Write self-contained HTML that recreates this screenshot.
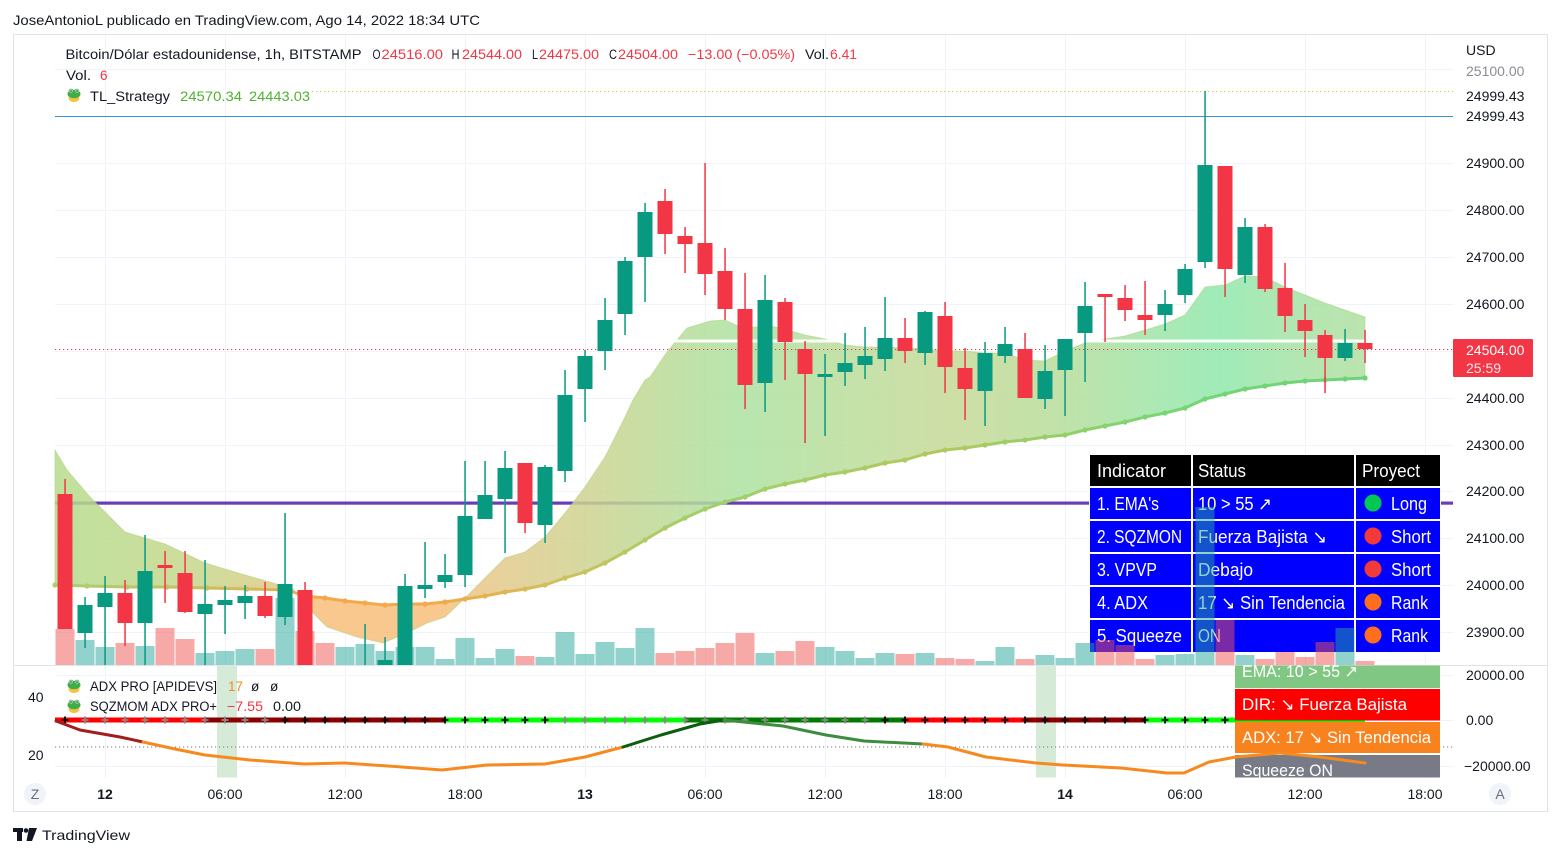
<!DOCTYPE html>
<html><head><meta charset="utf-8">
<style>
html,body{margin:0;padding:0;background:#fff;width:1561px;height:856px;overflow:hidden}
svg{display:block}
text{font-family:"Liberation Sans","DejaVu Sans",sans-serif}
</style></head><body>
<svg width="1561" height="856" viewBox="0 0 1561 856" xmlns="http://www.w3.org/2000/svg">
<defs>
<linearGradient id="bandG" gradientUnits="userSpaceOnUse" x1="55" y1="0" x2="1365" y2="0">
<stop offset="0" stop-color="#b5dc8c"/>
<stop offset="0.11" stop-color="#c6d68a"/>
<stop offset="0.172" stop-color="#e0cb84"/>
<stop offset="0.202" stop-color="#f8be7a"/>
<stop offset="0.294" stop-color="#f8bf7b"/>
<stop offset="0.34" stop-color="#e4c98a"/>
<stop offset="0.385" stop-color="#d4d08e"/>
<stop offset="0.447" stop-color="#c0d894"/>
<stop offset="0.523" stop-color="#abe2a0"/>
<stop offset="0.584" stop-color="#b6de9c"/>
<stop offset="0.683" stop-color="#c6d996"/>
<stop offset="0.767" stop-color="#b6dd9a"/>
<stop offset="0.836" stop-color="#a0e4a6"/>
<stop offset="0.889" stop-color="#8ee8ac"/>
<stop offset="0.95" stop-color="#a6e2a4"/>
<stop offset="1" stop-color="#b0dfa0"/>
</linearGradient>
<linearGradient id="lineG" gradientUnits="userSpaceOnUse" x1="55" y1="0" x2="1365" y2="0">
<stop offset="0" stop-color="#a8d070"/>
<stop offset="0.17" stop-color="#dcb458"/>
<stop offset="0.2" stop-color="#f5a84a"/>
<stop offset="0.3" stop-color="#f2aa4a"/>
<stop offset="0.38" stop-color="#cfc05c"/>
<stop offset="0.5" stop-color="#9fd06a"/>
<stop offset="0.68" stop-color="#b2c860"/>
<stop offset="0.85" stop-color="#78d673"/>
<stop offset="1" stop-color="#6dd27a"/>
</linearGradient>
<clipPath id="mainClip"><rect x="14" y="35" width="1439" height="630"/></clipPath>
<clipPath id="lowClip"><rect x="14" y="665.5" width="1439" height="112"/></clipPath>
<clipPath id="topLbl"><rect x="1453" y="64" width="100" height="20"/></clipPath>
<g id="frog">
<ellipse cx="7" cy="10" rx="5.5" ry="4" fill="#f5c242"/>
<ellipse cx="7" cy="6" rx="6.5" ry="4.3" fill="#3fae49"/>
<circle cx="4" cy="3" r="2.3" fill="#3fae49"/><circle cx="10" cy="3" r="2.3" fill="#3fae49"/>
<circle cx="4" cy="3" r="1.5" fill="#fff"/><circle cx="10" cy="3" r="1.5" fill="#fff"/>
<circle cx="4" cy="3" r="0.8" fill="#000"/><circle cx="10" cy="3" r="0.8" fill="#000"/>
</g>
</defs>

<!-- header -->
<text x="13" y="25" font-size="14" fill="#131722" textLength="467" lengthAdjust="spacingAndGlyphs">JoseAntonioL publicado en TradingView.com, Ago 14, 2022 18:34 UTC</text>

<!-- frame -->
<rect x="13.5" y="34.5" width="1534" height="777" fill="#fff" stroke="#e0e3eb" stroke-width="1"/>

<!-- grid main -->
<g stroke="#f0f3fa" stroke-width="1">
<path d="M55 69.5H1453M55 116.5H1453M55 163.5H1453M55 210.5H1453M55 257.5H1453M55 304.5H1453M55 351.5H1453M55 398.5H1453M55 445.5H1453M55 491.5H1453M55 538.5H1453M55 585.5H1453M55 632.5H1453"/>
<path d="M105.5 35V778M225.5 35V778M345.5 35V778M465.5 35V778M585.5 35V778M705.5 35V778M825.5 35V778M945.5 35V778M1065.5 35V778M1185.5 35V778M1305.5 35V778M1425.5 35V778"/>
<path d="M55 675.5H1453M55 720.5H1453M55 766.5H1453"/>
</g>

<g clip-path="url(#mainClip)">
<!-- purple line -->
<rect x="55" y="501.5" width="1398" height="3.2" fill="#6a3db8"/>
<!-- band -->
<polygon fill="url(#bandG)" fill-opacity="0.85" stroke="#a9cf7a" stroke-opacity="0.5" stroke-width="1" points="55,450 67,470 90,497 125,532 165,544 205,563 245,575 273,583 293,589 307,607 327,627 357,637 383,643 407,633 427,623 445,617 465,598 485,578 505,558 525,552 545,537 565,513 585,487 605,457 625,417 633,400 645,380 650,377 667,352 687,328 710,321 725,320 740,327 757,327 767,325 787,330 805,335 825,339 845,345 865,347 885,347 905,348 925,349 945,351 965,351 985,353 1005,353 1025,360 1045,361 1065,351 1085,343 1105,339 1125,336 1145,330 1165,324 1185,315 1205,287 1225,285 1245,276 1265,277 1285,287 1305,295 1325,303 1345,310 1365,317 1365,378 1345,379 1325,380 1305,381 1285,383 1265,386 1245,389 1225,394 1205,399 1185,408 1165,413 1145,417 1125,422 1105,426 1085,430 1065,435 1045,437 1025,440 1005,442 985,445 965,448 945,450 925,454 905,460 885,463 865,468 845,472 825,475 805,480 785,484 765,489 745,497 725,502 705,509 685,518 665,528 645,540 625,552 605,563 585,572 565,578 545,585 525,589 505,592 485,596 465,599 445,602 425,604 405,604 385,605 365,603 345,601 325,598 305,596 287,590 247,589 207,588 167,587 127,587 87,586 55,585"/>
<!-- slow ema line -->
<polyline fill="none" stroke="url(#lineG)" stroke-width="3" stroke-linejoin="round" points="55,585 87,586 127,587 167,587 207,588 247,589 287,590 305,596 325,598 345,601 365,603 385,605 405,604 425,604 445,602 465,599 485,596 505,592 525,589 545,585 565,578 585,572 605,563 625,552 645,540 665,528 685,518 705,509 725,502 745,497 765,489 785,484 805,480 825,475 845,472 865,468 885,463 905,460 925,454 945,450 965,448 985,445 1005,442 1025,440 1045,437 1065,435 1085,430 1105,426 1125,422 1145,417 1165,413 1185,408 1205,399 1225,394 1245,389 1265,386 1285,383 1305,381 1325,380 1345,379 1365,378"/>
<g fill="url(#lineG)">
<circle cx="55" cy="585" r="2.6"/><circle cx="87" cy="586" r="2.6"/><circle cx="127" cy="587" r="2.6"/><circle cx="167" cy="587" r="2.6"/><circle cx="207" cy="588" r="2.6"/><circle cx="247" cy="589" r="2.6"/><circle cx="287" cy="590" r="2.6"/><circle cx="325" cy="598" r="2.6"/><circle cx="345" cy="601" r="2.6"/><circle cx="365" cy="603" r="2.6"/><circle cx="385" cy="605" r="2.6"/><circle cx="405" cy="604" r="2.6"/><circle cx="425" cy="604" r="2.6"/><circle cx="445" cy="602" r="2.6"/><circle cx="465" cy="599" r="2.6"/><circle cx="485" cy="596" r="2.6"/><circle cx="505" cy="592" r="2.6"/><circle cx="525" cy="589" r="2.6"/><circle cx="545" cy="585" r="2.6"/><circle cx="565" cy="578" r="2.6"/><circle cx="585" cy="572" r="2.6"/><circle cx="605" cy="563" r="2.6"/><circle cx="625" cy="552" r="2.6"/><circle cx="645" cy="540" r="2.6"/><circle cx="665" cy="528" r="2.6"/><circle cx="685" cy="518" r="2.6"/><circle cx="705" cy="509" r="2.6"/><circle cx="725" cy="502" r="2.6"/><circle cx="745" cy="497" r="2.6"/><circle cx="765" cy="489" r="2.6"/><circle cx="785" cy="484" r="2.6"/><circle cx="805" cy="480" r="2.6"/><circle cx="825" cy="475" r="2.6"/><circle cx="845" cy="472" r="2.6"/><circle cx="865" cy="468" r="2.6"/><circle cx="885" cy="463" r="2.6"/><circle cx="905" cy="460" r="2.6"/><circle cx="925" cy="454" r="2.6"/><circle cx="945" cy="450" r="2.6"/><circle cx="965" cy="448" r="2.6"/><circle cx="985" cy="445" r="2.6"/><circle cx="1005" cy="442" r="2.6"/><circle cx="1025" cy="440" r="2.6"/><circle cx="1045" cy="437" r="2.6"/><circle cx="1065" cy="435" r="2.6"/><circle cx="1085" cy="430" r="2.6"/><circle cx="1105" cy="426" r="2.6"/><circle cx="1125" cy="422" r="2.6"/><circle cx="1145" cy="417" r="2.6"/><circle cx="1165" cy="413" r="2.6"/><circle cx="1185" cy="408" r="2.6"/><circle cx="1205" cy="399" r="2.6"/><circle cx="1225" cy="394" r="2.6"/><circle cx="1245" cy="389" r="2.6"/><circle cx="1265" cy="386" r="2.6"/><circle cx="1285" cy="383" r="2.6"/><circle cx="1305" cy="381" r="2.6"/><circle cx="1325" cy="380" r="2.6"/><circle cx="1345" cy="379" r="2.6"/><circle cx="1365" cy="378" r="2.6"/>
</g>
<!-- white poc line -->
<rect x="673" y="339.5" width="692" height="3" fill="#ffffff" opacity="0.92"/>
<!-- horizontal lines -->
<line x1="312" y1="91.5" x2="1453" y2="91.5" stroke="#c9d23e" stroke-width="1" stroke-dasharray="1.2 2.8"/>
<line x1="55" y1="116.5" x2="1453" y2="116.5" stroke="#3a8fd0" stroke-width="1"/>
<line x1="55" y1="349.5" x2="1453" y2="349.5" stroke="#f23645" stroke-width="1" stroke-dasharray="1.2 2.8"/>

<!-- table -->
<rect x="1089" y="454" width="352" height="199" fill="#ffffff"/>
<g fill="#000">
<rect x="1090" y="455" width="101" height="31"/><rect x="1193" y="455" width="161" height="31"/><rect x="1356" y="455" width="84" height="31"/>
</g>
<g fill="#0000ff">
<rect x="1090" y="488" width="101" height="31"/><rect x="1193" y="488" width="161" height="31"/><rect x="1356" y="488" width="84" height="31"/>
<rect x="1090" y="521" width="101" height="31"/><rect x="1193" y="521" width="161" height="31"/><rect x="1356" y="521" width="84" height="31"/>
<rect x="1090" y="554" width="101" height="31"/><rect x="1193" y="554" width="161" height="31"/><rect x="1356" y="554" width="84" height="31"/>
<rect x="1090" y="587" width="101" height="31"/><rect x="1193" y="587" width="161" height="31"/><rect x="1356" y="587" width="84" height="31"/>
<rect x="1090" y="620" width="101" height="32"/><rect x="1193" y="620" width="161" height="32"/><rect x="1356" y="620" width="84" height="32"/>
</g>
<circle cx="1373" cy="503" r="8.5" fill="#00c853"/>
<circle cx="1373" cy="536" r="8.5" fill="#f23a3a"/>
<circle cx="1373" cy="569" r="8.5" fill="#f23a3a"/>
<circle cx="1373" cy="602" r="8.5" fill="#ff6d1f"/>
<circle cx="1373" cy="635" r="8.5" fill="#ff6d1f"/>
<g fill="#ffffff" font-size="18">
<text x="1097" y="477" textLength="69" lengthAdjust="spacingAndGlyphs">Indicator</text>
<text x="1198" y="477" textLength="48" lengthAdjust="spacingAndGlyphs">Status</text>
<text x="1362" y="477" textLength="58" lengthAdjust="spacingAndGlyphs">Proyect</text>
<text x="1097" y="510" textLength="62" lengthAdjust="spacingAndGlyphs">1. EMA's</text>
<text x="1198" y="510" textLength="74" lengthAdjust="spacingAndGlyphs">10 &gt; 55 ↗</text>
<text x="1391" y="510" textLength="36" lengthAdjust="spacingAndGlyphs">Long</text>
<text x="1097" y="543" textLength="85" lengthAdjust="spacingAndGlyphs">2. SQZMON</text>
<text x="1198" y="543" textLength="129" lengthAdjust="spacingAndGlyphs">Fuerza Bajista ↘</text>
<text x="1391" y="543" textLength="40" lengthAdjust="spacingAndGlyphs">Short</text>
<text x="1097" y="576" textLength="60" lengthAdjust="spacingAndGlyphs">3. VPVP</text>
<text x="1198" y="576" textLength="55" lengthAdjust="spacingAndGlyphs">Debajo</text>
<text x="1391" y="576" textLength="40" lengthAdjust="spacingAndGlyphs">Short</text>
<text x="1097" y="609" textLength="51" lengthAdjust="spacingAndGlyphs">4. ADX</text>
<text x="1198" y="609" textLength="147" lengthAdjust="spacingAndGlyphs">17 ↘ Sin Tendencia</text>
<text x="1391" y="609" textLength="37" lengthAdjust="spacingAndGlyphs">Rank</text>
<text x="1097" y="642" textLength="85" lengthAdjust="spacingAndGlyphs">5. Squeeze</text>
<text x="1198" y="642" textLength="23" lengthAdjust="spacingAndGlyphs">ON</text>
<text x="1391" y="642" textLength="37" lengthAdjust="spacingAndGlyphs">Rank</text>
</g>

<!-- volume -->
<g fill="rgba(38,166,154,0.5)">
<rect x="75.5" y="640" width="19" height="25"/><rect x="95.5" y="647" width="19" height="18"/><rect x="135.5" y="646" width="19" height="19"/><rect x="195.5" y="653" width="19" height="12"/><rect x="215.5" y="651" width="19" height="14"/><rect x="235.5" y="649" width="19" height="16"/><rect x="275.5" y="598" width="19" height="67"/><rect x="335.5" y="647" width="19" height="18"/><rect x="355.5" y="644" width="19" height="21"/><rect x="375.5" y="651" width="19" height="14"/><rect x="395.5" y="647" width="19" height="18"/><rect x="415.5" y="647" width="19" height="18"/><rect x="435.5" y="659" width="19" height="6"/><rect x="455.5" y="638" width="19" height="27"/><rect x="475.5" y="658" width="19" height="7"/><rect x="495.5" y="649" width="19" height="16"/><rect x="535.5" y="657" width="19" height="8"/><rect x="555.5" y="632" width="19" height="33"/><rect x="575.5" y="654" width="19" height="11"/><rect x="595.5" y="642" width="19" height="23"/><rect x="615.5" y="648" width="19" height="17"/><rect x="635.5" y="628" width="19" height="37"/><rect x="755.5" y="653" width="19" height="12"/><rect x="815.5" y="647" width="19" height="18"/><rect x="835.5" y="651" width="19" height="14"/><rect x="855.5" y="658" width="19" height="7"/><rect x="875.5" y="653" width="19" height="12"/><rect x="915.5" y="653" width="19" height="12"/><rect x="975.5" y="661" width="19" height="4"/><rect x="995.5" y="647" width="19" height="18"/><rect x="1035.5" y="655" width="19" height="10"/><rect x="1055.5" y="658" width="19" height="7"/><rect x="1075.5" y="643" width="19" height="22"/><rect x="1155.5" y="655" width="19" height="10"/><rect x="1175.5" y="654" width="19" height="11"/><rect x="1195.5" y="507" width="19" height="158"/><rect x="1235.5" y="655" width="19" height="10"/><rect x="1335.5" y="628" width="19" height="37"/>
</g>
<g fill="rgba(239,83,80,0.5)">
<rect x="55.5" y="629" width="19" height="36"/><rect x="115.5" y="643" width="19" height="22"/><rect x="155.5" y="628" width="19" height="37"/><rect x="175.5" y="639" width="19" height="26"/><rect x="255.5" y="649" width="19" height="16"/><rect x="295.5" y="631" width="19" height="34"/><rect x="315.5" y="643" width="19" height="22"/><rect x="515.5" y="656" width="19" height="9"/><rect x="655.5" y="653" width="19" height="12"/><rect x="675.5" y="651" width="19" height="14"/><rect x="695.5" y="648" width="19" height="17"/><rect x="715.5" y="643" width="19" height="22"/><rect x="735.5" y="633" width="19" height="32"/><rect x="775.5" y="651" width="19" height="14"/><rect x="795.5" y="641" width="19" height="24"/><rect x="895.5" y="654" width="19" height="11"/><rect x="935.5" y="658" width="19" height="7"/><rect x="955.5" y="659" width="19" height="6"/><rect x="1015.5" y="659" width="19" height="6"/><rect x="1095.5" y="640" width="19" height="25"/><rect x="1115.5" y="645" width="19" height="20"/><rect x="1135.5" y="659" width="19" height="6"/><rect x="1215.5" y="620" width="19" height="45"/><rect x="1255.5" y="659" width="19" height="6"/><rect x="1275.5" y="652" width="19" height="13"/><rect x="1295.5" y="657" width="19" height="8"/><rect x="1315.5" y="642" width="19" height="23"/><rect x="1355.5" y="661" width="19" height="4"/>
</g>

<!-- green candles -->
<g fill="#089981">
<rect x="84.3" y="597" width="1.5" height="51"/><rect x="77.5" y="605" width="15" height="28"/>
<rect x="104.3" y="576" width="1.5" height="89"/><rect x="97.5" y="593" width="15" height="14"/>
<rect x="144.3" y="535" width="1.5" height="130"/><rect x="137.5" y="571" width="15" height="52"/>
<rect x="204.3" y="560" width="1.5" height="105"/><rect x="197.5" y="604" width="15" height="10"/>
<rect x="224.3" y="586" width="1.5" height="48"/><rect x="217.5" y="600" width="15" height="5"/>
<rect x="244.3" y="585" width="1.5" height="34"/><rect x="237.5" y="596" width="15" height="7"/>
<rect x="284.3" y="513" width="1.5" height="112"/><rect x="277.5" y="584" width="15" height="33"/>
<rect x="364.3" y="624" width="1.5" height="41"/>
<rect x="384.3" y="637" width="1.5" height="28"/><rect x="377.5" y="660" width="15" height="5"/>
<rect x="404.3" y="574" width="1.5" height="91"/><rect x="397.5" y="586" width="15" height="79"/>
<rect x="424.3" y="542" width="1.5" height="56"/><rect x="417.5" y="585" width="15" height="4"/>
<rect x="444.3" y="554" width="1.5" height="34"/><rect x="437.5" y="575" width="15" height="7"/>
<rect x="464.3" y="461" width="1.5" height="126"/><rect x="457.5" y="516" width="15" height="59"/>
<rect x="484.3" y="461" width="1.5" height="58"/><rect x="477.5" y="495" width="15" height="24"/>
<rect x="504.3" y="451" width="1.5" height="102"/><rect x="497.5" y="468" width="15" height="31"/>
<rect x="544.3" y="465" width="1.5" height="78"/><rect x="537.5" y="467" width="15" height="58"/>
<rect x="564.3" y="370" width="1.5" height="112"/><rect x="557.5" y="395" width="15" height="76"/>
<rect x="584.3" y="350" width="1.5" height="72"/><rect x="577.5" y="356" width="15" height="33"/>
<rect x="604.3" y="298" width="1.5" height="72"/><rect x="597.5" y="320" width="15" height="31"/>
<rect x="624.3" y="257" width="1.5" height="78"/><rect x="617.5" y="261" width="15" height="53"/>
<rect x="644.3" y="203" width="1.5" height="99"/><rect x="637.5" y="212" width="15" height="45"/>
<rect x="764.3" y="275" width="1.5" height="137"/><rect x="757.5" y="300" width="15" height="83"/>
<rect x="824.3" y="354" width="1.5" height="82"/><rect x="817.5" y="374" width="15" height="3"/>
<rect x="844.3" y="333" width="1.5" height="53"/><rect x="837.5" y="363" width="15" height="9"/>
<rect x="864.3" y="327" width="1.5" height="52"/><rect x="857.5" y="356" width="15" height="9"/>
<rect x="884.3" y="297" width="1.5" height="74"/><rect x="877.5" y="338" width="15" height="21"/>
<rect x="924.3" y="311" width="1.5" height="54"/><rect x="917.5" y="312" width="15" height="41"/>
<rect x="984.3" y="342" width="1.5" height="84"/><rect x="977.5" y="353" width="15" height="38"/>
<rect x="1004.3" y="327" width="1.5" height="36"/><rect x="997.5" y="344" width="15" height="12"/>
<rect x="1044.3" y="345" width="1.5" height="64"/><rect x="1037.5" y="371" width="15" height="28"/>
<rect x="1064.3" y="339" width="1.5" height="77"/><rect x="1057.5" y="339" width="15" height="31"/>
<rect x="1084.3" y="282" width="1.5" height="100"/><rect x="1077.5" y="306" width="15" height="27"/>
<rect x="1164.3" y="290" width="1.5" height="41"/><rect x="1157.5" y="304" width="15" height="11"/>
<rect x="1184.3" y="264" width="1.5" height="39"/><rect x="1177.5" y="269" width="15" height="26"/>
<rect x="1204.3" y="91" width="1.5" height="177"/><rect x="1197.5" y="165" width="15" height="97"/>
<rect x="1244.3" y="218" width="1.5" height="65"/><rect x="1237.5" y="227" width="15" height="48"/>
<rect x="1344.3" y="329" width="1.5" height="32"/><rect x="1337.5" y="343" width="15" height="15"/>
</g>
<!-- red candles -->
<g fill="#f23645">
<rect x="64.3" y="479" width="1.5" height="150"/><rect x="57.5" y="494" width="15" height="135"/>
<rect x="124.3" y="580" width="1.5" height="66"/><rect x="117.5" y="593" width="15" height="30"/>
<rect x="164.3" y="551" width="1.5" height="52"/><rect x="157.5" y="565" width="15" height="3"/>
<rect x="184.3" y="551" width="1.5" height="62"/><rect x="177.5" y="573" width="15" height="39"/>
<rect x="264.3" y="582" width="1.5" height="36"/><rect x="257.5" y="596" width="15" height="20"/>
<rect x="304.3" y="582" width="1.5" height="83"/><rect x="297.5" y="590" width="15" height="75"/>
<rect x="524.3" y="463" width="1.5" height="70"/><rect x="517.5" y="463" width="15" height="60"/>
<rect x="664.3" y="189" width="1.5" height="65"/><rect x="657.5" y="201" width="15" height="33"/>
<rect x="684.3" y="227" width="1.5" height="46"/><rect x="677.5" y="236" width="15" height="8"/>
<rect x="704.3" y="163" width="1.5" height="132"/><rect x="697.5" y="243" width="15" height="31"/>
<rect x="724.3" y="248" width="1.5" height="72"/><rect x="717.5" y="271" width="15" height="38"/>
<rect x="744.3" y="273" width="1.5" height="136"/><rect x="737.5" y="309" width="15" height="76"/>
<rect x="784.3" y="298" width="1.5" height="82"/><rect x="777.5" y="302" width="15" height="40"/>
<rect x="804.3" y="341" width="1.5" height="102"/><rect x="797.5" y="349" width="15" height="25"/>
<rect x="904.3" y="318" width="1.5" height="45"/><rect x="897.5" y="338" width="15" height="13"/>
<rect x="944.3" y="302" width="1.5" height="91"/><rect x="937.5" y="316" width="15" height="51"/>
<rect x="964.3" y="348" width="1.5" height="72"/><rect x="957.5" y="368" width="15" height="21"/>
<rect x="1024.3" y="333" width="1.5" height="65"/><rect x="1017.5" y="349" width="15" height="49"/>
<rect x="1104.3" y="294" width="1.5" height="48"/><rect x="1097.5" y="294" width="15" height="3"/>
<rect x="1124.3" y="285" width="1.5" height="36"/><rect x="1117.5" y="298" width="15" height="12"/>
<rect x="1144.3" y="281" width="1.5" height="54"/><rect x="1137.5" y="315" width="15" height="5"/>
<rect x="1224.3" y="166" width="1.5" height="131"/><rect x="1217.5" y="166" width="15" height="103"/>
<rect x="1264.3" y="224" width="1.5" height="68"/><rect x="1257.5" y="227" width="15" height="62"/>
<rect x="1284.3" y="263" width="1.5" height="69"/><rect x="1277.5" y="288" width="15" height="28"/>
<rect x="1304.3" y="304" width="1.5" height="53"/><rect x="1297.5" y="320" width="15" height="11"/>
<rect x="1324.3" y="330" width="1.5" height="63"/><rect x="1317.5" y="335" width="15" height="23"/>
<rect x="1364.3" y="330" width="1.5" height="33"/><rect x="1357.5" y="343" width="15" height="6"/>
</g>
</g>

<!-- pane separator -->
<line x1="14" y1="665.5" x2="1547" y2="665.5" stroke="#e0e3eb" stroke-width="1"/>

<!-- legend main -->
<g font-size="13.5" fill="#131722">
<text x="65.5" y="59" textLength="296" lengthAdjust="spacingAndGlyphs">Bitcoin/Dólar estadounidense, 1h, BITSTAMP</text>
<text x="372.5" y="59" textLength="8" lengthAdjust="spacingAndGlyphs">O</text><text x="381.5" y="59" fill="#f23645" textLength="61.5" lengthAdjust="spacingAndGlyphs">24516.00</text>
<text x="451.5" y="59" textLength="8" lengthAdjust="spacingAndGlyphs">H</text><text x="462" y="59" fill="#f23645" textLength="60" lengthAdjust="spacingAndGlyphs">24544.00</text>
<text x="532" y="59" textLength="6" lengthAdjust="spacingAndGlyphs">L</text><text x="539" y="59" fill="#f23645" textLength="60" lengthAdjust="spacingAndGlyphs">24475.00</text>
<text x="609" y="59" textLength="8" lengthAdjust="spacingAndGlyphs">C</text><text x="618" y="59" fill="#f23645" textLength="60" lengthAdjust="spacingAndGlyphs">24504.00</text>
<text x="688" y="59" fill="#f23645" textLength="107" lengthAdjust="spacingAndGlyphs">−13.00 (−0.05%)</text>
<text x="805" y="59" textLength="24" lengthAdjust="spacingAndGlyphs">Vol.</text><text x="830" y="59" fill="#f23645" textLength="27" lengthAdjust="spacingAndGlyphs">6.41</text>
<text x="66" y="80" textLength="25" lengthAdjust="spacingAndGlyphs">Vol.</text><text x="100" y="80" fill="#f23645">6</text>
<text x="90" y="101" textLength="80" lengthAdjust="spacingAndGlyphs">TL_Strategy</text>
<text x="180" y="101" fill="#52b033" textLength="62" lengthAdjust="spacingAndGlyphs">24570.34</text>
<text x="249" y="101" fill="#52b033" textLength="61" lengthAdjust="spacingAndGlyphs">24443.03</text>
</g>
<use href="#frog" x="67" y="88"/>

<!-- right axis -->
<g font-size="14" fill="#131722">
<text x="1466" y="55">USD</text>
<text x="1466" y="76" fill="#8a8d96" clip-path="url(#topLbl)">25100.00</text>
<text x="1466" y="101">24999.43</text>
<text x="1466" y="121">24999.43</text>
<text x="1466" y="168">24900.00</text>
<text x="1466" y="215">24800.00</text>
<text x="1466" y="262">24700.00</text>
<text x="1466" y="309">24600.00</text>
<text x="1466" y="403">24400.00</text>
<text x="1466" y="450">24300.00</text>
<text x="1466" y="496">24200.00</text>
<text x="1466" y="543">24100.00</text>
<text x="1466" y="590">24000.00</text>
<text x="1466" y="637">23900.00</text>
<text x="1466" y="680">20000.00</text>
<text x="1466" y="725">0.00</text>
<text x="1464" y="771">−20000.00</text>
</g>
<rect x="1453" y="339" width="80" height="38" fill="#f23645" rx="1"/>
<text x="1466" y="355" font-size="14" fill="#fff">24504.00</text>
<text x="1466" y="373" font-size="14" fill="#fde4e6">25:59</text>

<!-- lower pane -->
<g clip-path="url(#lowClip)">
<rect x="217" y="666" width="20" height="112" fill="#d6ebd7"/>
<rect x="1036" y="666" width="20" height="112" fill="#d6ebd7"/>
<line x1="55" y1="747" x2="1453" y2="747" stroke="#787b86" stroke-width="1" stroke-dasharray="1.2 2.8"/>
<!-- squeeze line -->
<g stroke-width="5">
<line x1="55" y1="720" x2="205" y2="720" stroke="#ff0000"/>
<line x1="205" y1="720" x2="445" y2="720" stroke="#880000"/>
<line x1="445" y1="720" x2="685" y2="720" stroke="#00ff00"/>
<line x1="685" y1="720" x2="905" y2="720" stroke="#007a00"/>
<line x1="905" y1="720" x2="1025" y2="720" stroke="#ff0000"/>
<line x1="1025" y1="720" x2="1145" y2="720" stroke="#880000"/>
<line x1="1145" y1="720" x2="1365" y2="720" stroke="#00ff00"/>
</g>
<path stroke="#888" stroke-width="1.8" fill="none" d="M81.5,720h7M85,716.5v7M101.5,720h7M105,716.5v7M121.5,720h7M125,716.5v7M141.5,720h7M145,716.5v7M161.5,720h7M165,716.5v7M181.5,720h7M185,716.5v7M201.5,720h7M205,716.5v7M221.5,720h7M225,716.5v7M241.5,720h7M245,716.5v7M261.5,720h7M265,716.5v7M561.5,720h7M565,716.5v7M581.5,720h7M585,716.5v7M601.5,720h7M605,716.5v7M621.5,720h7M625,716.5v7M641.5,720h7M645,716.5v7M661.5,720h7M665,716.5v7M681.5,720h7M685,716.5v7M701.5,720h7M705,716.5v7M721.5,720h7M725,716.5v7M741.5,720h7M745,716.5v7M761.5,720h7M765,716.5v7M781.5,720h7M785,716.5v7M801.5,720h7M805,716.5v7M821.5,720h7M825,716.5v7M841.5,720h7M845,716.5v7M861.5,720h7M865,716.5v7"/>
<path stroke="#000" stroke-width="1.8" fill="none" d="M61.5,720h7M65,716.5v7M281.5,720h7M285,716.5v7M301.5,720h7M305,716.5v7M321.5,720h7M325,716.5v7M341.5,720h7M345,716.5v7M361.5,720h7M365,716.5v7M381.5,720h7M385,716.5v7M401.5,720h7M405,716.5v7M421.5,720h7M425,716.5v7M441.5,720h7M445,716.5v7M461.5,720h7M465,716.5v7M481.5,720h7M485,716.5v7M501.5,720h7M505,716.5v7M521.5,720h7M525,716.5v7M541.5,720h7M545,716.5v7M881.5,720h7M885,716.5v7M901.5,720h7M905,716.5v7M921.5,720h7M925,716.5v7M941.5,720h7M945,716.5v7M961.5,720h7M965,716.5v7M981.5,720h7M985,716.5v7M1001.5,720h7M1005,716.5v7M1021.5,720h7M1025,716.5v7M1041.5,720h7M1045,716.5v7M1061.5,720h7M1065,716.5v7M1081.5,720h7M1085,716.5v7M1101.5,720h7M1105,716.5v7M1121.5,720h7M1125,716.5v7M1141.5,720h7M1145,716.5v7M1161.5,720h7M1165,716.5v7M1181.5,720h7M1185,716.5v7M1201.5,720h7M1205,716.5v7M1221.5,720h7M1225,716.5v7"/>
<!-- boxes -->
<rect x="1235" y="656" width="205" height="32" fill="#81c784"/>
<rect x="1235" y="689" width="205" height="31.5" fill="#ff0000"/>
<rect x="1235" y="722" width="205" height="31" fill="#f7821e"/>
<rect x="1235" y="755" width="205" height="30" fill="#787b86"/>
<g fill="#fff" font-size="17">
<text x="1242" y="677" textLength="116" lengthAdjust="spacingAndGlyphs">EMA: 10 &gt; 55 ↗</text>
<text x="1242" y="710" textLength="165" lengthAdjust="spacingAndGlyphs">DIR: ↘ Fuerza Bajista</text>
<text x="1242" y="743" textLength="189" lengthAdjust="spacingAndGlyphs">ADX: 17 ↘ Sin Tendencia</text>
<text x="1242" y="776" textLength="91" lengthAdjust="spacingAndGlyphs">Squeeze ON</text>
</g>
<!-- ADX line -->
<g fill="none" stroke-width="3" stroke-linejoin="round" stroke-linecap="round">
<polyline stroke="#a31d1d" points="56,721 80,730 120,737 143,742"/>
<polyline stroke="#f68a1f" points="143,742 175,749 205,755 250,760 304,764 344,763 402,767 442,770 487,765 545,764 585,757 623,747"/>
<polyline stroke="#0b5e0b" points="623,747 661,735 700,724 724,720"/>
<polyline stroke="#3d8c40" points="724,720 783,726 826,735 864,741 923,744"/>
<polyline stroke="#f68a1f" points="923,744 948,747 986,757 1036,763 1063,765 1121,768 1167,773 1184,773 1209,762 1236,757 1280,753 1320,757 1365,763"/>
</g>
</g>

<!-- lower legend -->
<use href="#frog" x="67" y="679"/>
<use href="#frog" x="67" y="699"/>
<g font-size="13.5" fill="#131722">
<text x="90" y="691" textLength="127" lengthAdjust="spacingAndGlyphs">ADX PRO [APIDEVS]</text>
<text x="228" y="691" fill="#f68a1f">17</text>
<text x="251" y="691">ø</text><text x="270" y="691">ø</text>
<text x="90" y="711" textLength="127" lengthAdjust="spacingAndGlyphs">SQZMOM ADX PRO+</text>
<text x="227" y="711" fill="#f23645" textLength="36" lengthAdjust="spacingAndGlyphs">−7.55</text>
<text x="273" y="711" textLength="28" lengthAdjust="spacingAndGlyphs">0.00</text>
</g>
<g font-size="14" fill="#131722">
<text x="28" y="702">40</text>
<text x="28" y="760">20</text>
</g>

<!-- time axis -->
<g font-size="14" fill="#131722" text-anchor="middle">
<text x="105" y="799" font-weight="bold">12</text>
<text x="225" y="799">06:00</text>
<text x="345" y="799">12:00</text>
<text x="465" y="799">18:00</text>
<text x="585" y="799" font-weight="bold">13</text>
<text x="705" y="799">06:00</text>
<text x="825" y="799">12:00</text>
<text x="945" y="799">18:00</text>
<text x="1065" y="799" font-weight="bold">14</text>
<text x="1185" y="799">06:00</text>
<text x="1305" y="799">12:00</text>
<text x="1425" y="799">18:00</text>
</g>
<circle cx="35" cy="794" r="11" fill="#f0f3fa"/>
<text x="35" y="799" font-size="14" fill="#6a6d78" text-anchor="middle">Z</text>
<circle cx="1500" cy="794" r="11" fill="#f0f3fa"/>
<text x="1500" y="799" font-size="14" fill="#6a6d78" text-anchor="middle">A</text>

<!-- footer logo -->
<g fill="#131722">
<rect x="13" y="828" width="10" height="4"/>
<rect x="17" y="828" width="5" height="13"/>
<circle cx="26" cy="830.5" r="2.3"/>
<polygon points="29,828 37,828 32,841 26.5,841"/>
</g>
<text x="42" y="840" font-size="14" fill="#131722" textLength="88" lengthAdjust="spacingAndGlyphs">TradingView</text>
</svg>
</body></html>
